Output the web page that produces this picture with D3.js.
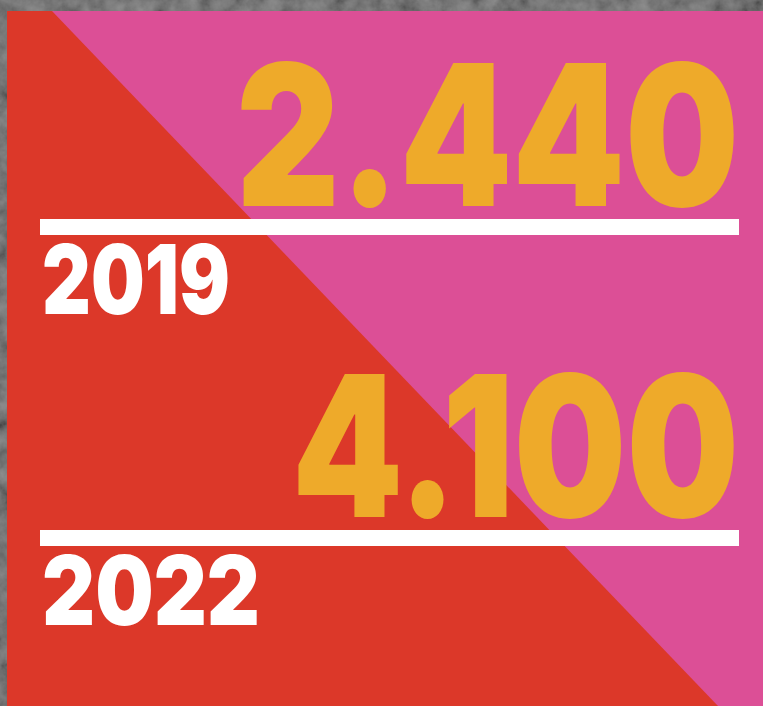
<!DOCTYPE html>
<html>
<head>
<meta charset="utf-8">
<script src="https://cdn.jsdelivr.net/npm/d3@7/dist/d3.min.js"></script>
<style>
html,body{margin:0;padding:0;background:#5a5a5a;}
svg{display:block;}
</style>
</head>
<body>
<div id="chart"></div>
<script>
// ---- data ----
const years = ["2019", "2022"];
const values = [2440, 4100];

// ---- layout / style ----
const W = 763, H = 706;
const panel = {x0: 7, y0: 11, x1: 763, y1: 706};
const diagTopX = 52, diagBotX = 718;
const colors = {bg: "#5a5a5a", red: "#dc3829", pink: "#dc4f96", num: "#eeaa2a", white: "#ffffff"};
const numWidths = [503, 447];   // rendered widths of the big numbers
const yearWidths = [188, 218];  // rendered widths of the year labels

const fmt = d3.formatLocale({decimal: ",", thousands: ".", grouping: [3], currency: ["", ""]}).format(",d");

const svg = d3.select("#chart").append("svg").attr("width", W).attr("height", H);

// concrete-like texture
const defs = svg.append("defs");
const f = defs.append("filter").attr("id", "concrete").attr("x", 0).attr("y", 0).attr("width", "100%").attr("height", "100%");
f.append("feTurbulence").attr("type", "fractalNoise").attr("baseFrequency", 0.06).attr("numOctaves", 4).attr("seed", 7).attr("result", "noise");
f.append("feColorMatrix").attr("in", "noise").attr("type", "matrix")
  .attr("values", "0.6 0.6 0 0 -0.25  0.6 0.6 0 0 -0.25  0.6 0.6 0 0 -0.25  0 0 0 0 1");
svg.append("rect").attr("width", W).attr("height", H).attr("fill", colors.bg);
svg.append("rect").attr("width", W).attr("height", H).attr("filter", "url(#concrete)").attr("opacity", 0.4);

// panel: red background + pink triangle (upper right)
svg.append("rect").attr("x", panel.x0).attr("y", panel.y0)
  .attr("width", panel.x1 - panel.x0).attr("height", panel.y1 - panel.y0).attr("fill", colors.red);
svg.append("path")
  .attr("d", d3.line()([[diagTopX, panel.y0], [panel.x1, panel.y0], [panel.x1, panel.y1], [diagBotX, panel.y1]]) + "Z")
  .attr("fill", colors.pink);

// rows
const y = d3.scaleLinear().domain([0, 1]).range([206, 517]); // number baselines
const lineX0 = 40, lineX1 = 739, lineH = 16;
const numRight = 739, yearLeft = 42;

const row = svg.selectAll("g.row").data(years.map((yr, i) => ({year: yr, value: values[i], i})))
  .join("g").attr("class", "row");

row.append("text")
  .attr("class", "num")
  .attr("x", 0).attr("y", 0)
  .attr("text-anchor", "end")
  .attr("font-family", "Inter, 'Noto Sans', sans-serif")
  .attr("font-weight", 900)
  .attr("font-size", 197)
  .attr("fill", colors.num)
  .text(d => fmt(d.value))
  .attr("transform", function(d) {
    const sx = numWidths[d.i] / this.getComputedTextLength();
    return `translate(${numRight},${y(d.i)}) scale(${sx},1)`;
  });

row.append("rect")
  .attr("x", lineX0)
  .attr("y", d => y(d.i) + 13)
  .attr("width", lineX1 - lineX0)
  .attr("height", lineH)
  .attr("fill", colors.white);

row.append("text")
  .attr("class", "year")
  .attr("x", 0).attr("y", 0)
  .attr("font-family", "Inter, 'Noto Sans', sans-serif")
  .attr("font-weight", 900)
  .attr("font-size", 96)
  .attr("fill", colors.white)
  .text(d => d.year)
  .attr("transform", function(d) {
    const sx = yearWidths[d.i] / this.getComputedTextLength();
    return `translate(${yearLeft},${y(d.i) + 108}) scale(${sx},1)`;
  });
</script>
</body>
</html>
